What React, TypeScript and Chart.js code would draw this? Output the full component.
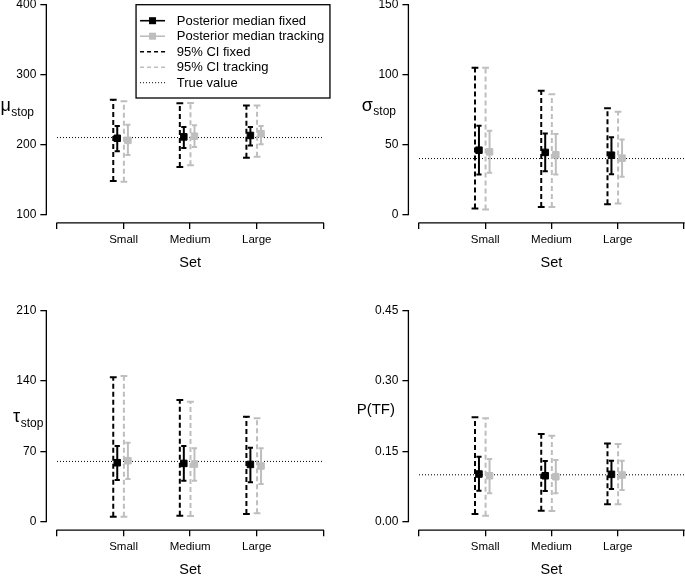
import React, { useEffect, useRef } from 'react';
import { Chart, registerables } from 'chart.js';

Chart.register(...registerables);

// ---------- data ----------
const CATEGORIES = ['Small', 'Medium', 'Large'];
const X_TICKS = [0, 1, 2, 3, 4];

// rows per category: [lower 95% CI, lower inner, median, upper inner, upper 95% CI]
const MU_FIXED = [
  [148, 190.5, 209, 226.5, 264],
  [168, 195, 211, 225, 259],
  [181, 198.5, 213, 225, 256],
];
const MU_TRACK = [
  [147, 185, 206, 228.5, 262],
  [170.5, 196.5, 212, 227.5, 259.5],
  [182.5, 200.5, 215.5, 226.5, 256],
];
const MU_TRUE = 210;
const MU_TICKS = [100, 200, 300, 400];

const SIGMA_FIXED = [
  [4.3, 28.6, 46, 63.4, 105],
  [5.4, 31, 44.4, 58, 88.5],
  [7.4, 28.8, 42.4, 55.3, 75.9],
];
const SIGMA_TRACK = [
  [3.6, 29.8, 44.8, 59.8, 105],
  [5.4, 28.6, 42.7, 57.5, 86],
  [7.9, 27, 40.3, 53.7, 73.5],
];
const SIGMA_TRUE = 40;
const SIGMA_TICKS = [0, 50, 100, 150];

const TAU_FIXED = [
  [5, 41.5, 58.7, 75.3, 143.7],
  [6, 40.8, 58, 75.3, 121],
  [7.7, 39.2, 57, 73.7, 104.5],
];
const TAU_TRACK = [
  [5, 42.5, 60.7, 78.6, 145],
  [5.7, 40.8, 57.4, 73, 119.4],
  [8.3, 37.5, 55.4, 73, 103],
];
const TAU_TRUE = 60;
const TAU_TICKS = [0, 70, 140, 210];

const PTF_FIXED = [
  [0.0164, 0.0662, 0.1017, 0.1387, 0.2226],
  [0.0235, 0.0655, 0.098, 0.1294, 0.187],
  [0.037, 0.0697, 0.101, 0.13, 0.167],
];
const PTF_TRACK = [
  [0.0128, 0.0605, 0.098, 0.1337, 0.2205],
  [0.0228, 0.0605, 0.096, 0.1316, 0.1834],
  [0.037, 0.0676, 0.0996, 0.13, 0.1657],
];
const PTF_TRUE = 0.1;
const PTF_TICKS = [0, 0.15, 0.3, 0.45];

const LEGEND_LABELS = [
  'Posterior median fixed',
  'Posterior median tracking',
  '95% CI fixed',
  '95% CI tracking',
  'True value',
];
const X_TITLE = 'Set';

// ---------- style ----------
const FONT = "'Liberation Sans', Arial, Helvetica, sans-serif";
const BLACK = '#000000';
const GRAY = '#bebebe';
const AXIS_W = 1.3;
const CI_DASH = [5, 3];
const TRUE_DASH = [1, 2];
const OFF_FIXED_CI = -0.155;
const OFF_FIXED_MED = -0.095;
const OFF_TRACK_CI = 0.005;
const OFF_TRACK_MED = 0.065;
const Y_W = 40;
const X_H = 49;

type LabelCfg = { main: string; sub: string; mainSize: number; subSize: number; gap: number; mainBase: number; subBase: number };

type PanelCfg = {
  fixed: number[][];
  track: number[][];
  truth: number;
  ticks: number[];
  fmt: (v: number) => string;
  label: LabelCfg;
  col: number;
  row: number;
  legend: boolean;
};

const PANELS: PanelCfg[] = [
  {
    fixed: MU_FIXED, track: MU_TRACK, truth: MU_TRUE, ticks: MU_TICKS, fmt: (v) => String(v),
    label: { main: 'μ', sub: 'stop', mainSize: 18, subSize: 12, gap: 12.3, mainBase: 1, subBase: 6 },
    col: 0, row: 0, legend: true,
  },
  {
    fixed: SIGMA_FIXED, track: SIGMA_TRACK, truth: SIGMA_TRUE, ticks: SIGMA_TICKS, fmt: (v) => String(v),
    label: { main: 'σ', sub: 'stop', mainSize: 18, subSize: 12, gap: 12.4, mainBase: 1, subBase: 5 },
    col: 1, row: 0, legend: false,
  },
  {
    fixed: TAU_FIXED, track: TAU_TRACK, truth: TAU_TRUE, ticks: TAU_TICKS, fmt: (v) => String(v),
    label: { main: 'τ', sub: 'stop', mainSize: 18, subSize: 12, gap: 3, mainBase: 6, subBase: 11 },
    col: 0, row: 1, legend: false,
  },
  {
    fixed: PTF_FIXED, track: PTF_TRACK, truth: PTF_TRUE, ticks: PTF_TICKS, fmt: (v) => v.toFixed(2),
    label: { main: 'P(TF)', sub: '', mainSize: 15, subSize: 12, gap: 13.4, mainBase: -2, subBase: 0 },
    col: 1, row: 1, legend: false,
  },
];

// page geometry of the axes (x value 0 and 4; first and last y tick)
const COL_X = [
  { p0: 57, p4: 323.3, canvasLeft: 0, canvasW: 342 },
  { p0: 419, p4: 684, canvasLeft: 342, canvasW: 365 },
];
const ROW_Y = [
  { pFirst: 214.5, pLast: 4.7, canvasTop: -20, canvasH: 300 },
  { pFirst: 521.7, pLast: 310.7, canvasTop: 286, canvasH: 300 },
];

// ---------- plugins ----------
const rAxesPlugin = {
  id: 'rAxes',
  afterDraw(chart: any, _args: any, opts: any) {
    const { ctx, chartArea, scales } = chart;
    const yt: number[] = opts.yTicks;
    const x = scales.x;
    const y = scales.y;
    ctx.save();
    ctx.strokeStyle = BLACK;
    ctx.lineWidth = AXIS_W;
    ctx.setLineDash([]);
    ctx.beginPath();
    ctx.moveTo(chartArea.left, y.getPixelForValue(yt[0]) + AXIS_W / 2);
    ctx.lineTo(chartArea.left, y.getPixelForValue(yt[yt.length - 1]) - AXIS_W / 2);
    ctx.moveTo(x.getPixelForValue(X_TICKS[0]) - AXIS_W / 2, chartArea.bottom);
    ctx.lineTo(x.getPixelForValue(X_TICKS[X_TICKS.length - 1]) + AXIS_W / 2, chartArea.bottom);
    ctx.stroke();
    ctx.restore();
  },
};

const yTitlePlugin = {
  id: 'yTitle',
  afterDraw(chart: any, _args: any, o: any) {
    const { ctx, chartArea } = chart;
    const cy = (chartArea.top + chartArea.bottom) / 2;
    const right = chartArea.left - o.gap;
    ctx.save();
    ctx.fillStyle = BLACK;
    ctx.textBaseline = 'alphabetic';
    ctx.textAlign = 'left';
    ctx.font = `${o.subSize}px ${FONT}`;
    const subW = o.sub ? ctx.measureText(o.sub).width : 0;
    ctx.font = `${o.mainSize}px ${FONT}`;
    const mainW = ctx.measureText(o.main).width;
    const x0 = right - subW - mainW - (o.sub ? 0.5 : 0);
    ctx.fillText(o.main, x0, cy + o.mainBase);
    if (o.sub) {
      ctx.font = `${o.subSize}px ${FONT}`;
      ctx.fillText(o.sub, x0 + mainW + 0.5, cy + o.subBase);
    }
    ctx.restore();
  },
};

type LegendStyle = { color: string; dash: number[]; width: number; marker: boolean };
const LEGEND_STYLES: LegendStyle[] = [
  { color: BLACK, dash: [], width: 1.6, marker: true },
  { color: GRAY, dash: [], width: 1.6, marker: true },
  { color: BLACK, dash: [4, 3], width: 1.6, marker: false },
  { color: GRAY, dash: [4, 3], width: 1.6, marker: false },
  { color: BLACK, dash: [1, 2], width: 1, marker: false },
];

const boxLegendPlugin = {
  id: 'boxLegend',
  afterDraw(chart: any, _args: any, o: any) {
    if (!o.show) return;
    const { ctx, chartArea } = chart;
    const left = chartArea.left + 89.7;
    const right = chartArea.right - 4;
    const top = chartArea.top + 8.4;
    const bottom = top + 93.3;
    ctx.save();
    ctx.fillStyle = '#ffffff';
    ctx.fillRect(left, top, right - left, bottom - top);
    ctx.strokeStyle = BLACK;
    ctx.lineWidth = 1.3;
    ctx.setLineDash([]);
    ctx.strokeRect(left, top, right - left, bottom - top);
    ctx.font = `13px ${FONT}`;
    ctx.textBaseline = 'middle';
    ctx.textAlign = 'left';
    LEGEND_LABELS.forEach((label, i) => {
      const st = LEGEND_STYLES[i];
      const yy = top + 16 + i * 15.5;
      ctx.strokeStyle = st.color;
      ctx.lineWidth = st.width;
      ctx.setLineDash(st.dash);
      ctx.beginPath();
      ctx.moveTo(left + 4, yy);
      ctx.lineTo(left + 29, yy);
      ctx.stroke();
      ctx.setLineDash([]);
      if (st.marker) {
        ctx.fillStyle = st.color;
        ctx.fillRect(left + 16.5 - 3.5, yy - 3.5, 7, 7);
      }
      ctx.fillStyle = BLACK;
      ctx.fillText(label, left + 40.7, yy + 0.5);
    });
    ctx.restore();
  },
};

// ---------- dataset builders ----------
function intervalData(rows: number[][], off: number, lo: number, hi: number) {
  const out: { x: number; y: number | null }[] = [];
  rows.forEach((r, i) => {
    const xv = i + 1 + off;
    out.push({ x: xv, y: r[lo] });
    out.push({ x: xv, y: r[hi] });
    out.push({ x: xv, y: null });
  });
  return out;
}

function medianData(rows: number[][], off: number) {
  return rows.map((r, i) => ({ x: i + 1 + off, y: r[2] }));
}

function buildConfig(p: PanelCfg) {
  const cx = COL_X[p.col];
  const ry = ROW_Y[p.row];
  const xMin = -0.16;
  const xMax = 4.16;
  const xSpan = cx.p4 - cx.p0;
  const areaLeft = cx.p0 - 0.04 * xSpan - cx.canvasLeft;
  const areaRight = cx.p4 + 0.04 * xSpan - cx.canvasLeft;
  const ySpan = ry.pFirst - ry.pLast;
  const areaTop = ry.pLast - 0.04 * ySpan - ry.canvasTop;
  const areaBottom = ry.pFirst + 0.04 * ySpan - ry.canvasTop;
  const t0 = p.ticks[0];
  const t1 = p.ticks[p.ticks.length - 1];
  const yMin = t0 - 0.04 * (t1 - t0);
  const yMax = t1 + 0.04 * (t1 - t0);

  const datasets: any[] = [
    {
      label: LEGEND_LABELS[0], data: medianData(p.fixed, OFF_FIXED_MED), showLine: false,
      pointStyle: 'rect', pointRadius: 4.6, pointBackgroundColor: BLACK, pointBorderColor: BLACK, pointBorderWidth: 1,
      borderColor: BLACK, backgroundColor: BLACK,
    },
    {
      label: LEGEND_LABELS[1], data: medianData(p.track, OFF_TRACK_MED), showLine: false,
      pointStyle: 'rect', pointRadius: 4.6, pointBackgroundColor: GRAY, pointBorderColor: GRAY, pointBorderWidth: 1,
      borderColor: GRAY, backgroundColor: GRAY,
    },
    {
      label: 'inner fixed', data: intervalData(p.fixed, OFF_FIXED_MED, 1, 3), borderColor: BLACK, borderWidth: 2,
      pointStyle: 'line', pointRadius: 2.6, pointBorderColor: BLACK, pointBorderWidth: 2, spanGaps: false,
    },
    {
      label: 'inner tracking', data: intervalData(p.track, OFF_TRACK_MED, 1, 3), borderColor: GRAY, borderWidth: 2,
      pointStyle: 'line', pointRadius: 2.6, pointBorderColor: GRAY, pointBorderWidth: 2, spanGaps: false,
    },
    {
      label: LEGEND_LABELS[2], data: intervalData(p.fixed, OFF_FIXED_CI, 0, 4), borderColor: BLACK, borderWidth: 2,
      borderDash: CI_DASH, pointStyle: 'line', pointRadius: 3.4, pointBorderColor: BLACK, pointBorderWidth: 2, spanGaps: false,
    },
    {
      label: LEGEND_LABELS[3], data: intervalData(p.track, OFF_TRACK_CI, 0, 4), borderColor: GRAY, borderWidth: 2,
      borderDash: CI_DASH, pointStyle: 'line', pointRadius: 3.4, pointBorderColor: GRAY, pointBorderWidth: 2, spanGaps: false,
    },
    {
      label: LEGEND_LABELS[4], data: [{ x: X_TICKS[0], y: p.truth }, { x: X_TICKS[X_TICKS.length - 1], y: p.truth }],
      borderColor: BLACK, borderWidth: 1, borderDash: TRUE_DASH, pointRadius: 0,
    },
  ];

  const gridOpts = {
    display: true, drawOnChartArea: false, drawTicks: true, tickLength: 6,
    color: BLACK, tickColor: BLACK, tickWidth: AXIS_W, lineWidth: AXIS_W,
  };

  return {
    type: 'line',
    data: { datasets },
    options: {
      responsive: false,
      maintainAspectRatio: false,
      animation: false,
      events: [],
      layout: {
        padding: {
          left: areaLeft - Y_W,
          right: cx.canvasW - areaRight,
          top: areaTop,
          bottom: ry.canvasH - areaBottom - X_H,
        },
      },
      plugins: {
        legend: { display: false },
        tooltip: { enabled: false },
        rAxes: { yTicks: p.ticks },
        yTitle: p.label,
        boxLegend: { show: p.legend },
      },
      scales: {
        x: {
          type: 'linear', min: xMin, max: xMax,
          afterBuildTicks: (s: any) => { s.ticks = X_TICKS.map((v) => ({ value: v })); },
          afterFit: (s: any) => { s.height = X_H; },
          grid: gridOpts,
          border: { display: false },
          ticks: {
            autoSkip: false, maxRotation: 0, minRotation: 0, padding: 4, color: BLACK,
            font: { family: FONT, size: 11.5 },
            callback: (v: any) => CATEGORIES[Math.round(Number(v)) - 1] ?? '',
          },
          title: { display: true, text: X_TITLE, color: BLACK, font: { family: FONT, size: 14.5 }, padding: 0 },
        },
        y: {
          type: 'linear', min: yMin, max: yMax,
          afterBuildTicks: (s: any) => { s.ticks = p.ticks.map((v) => ({ value: v })); },
          afterFit: (s: any) => { s.width = Y_W; },
          grid: gridOpts,
          border: { display: false },
          ticks: {
            autoSkip: false, padding: 4, color: BLACK,
            font: { family: FONT, size: 12 },
            callback: (v: any) => p.fmt(Number(v)),
          },
        },
      },
    },
    plugins: [rAxesPlugin, yTitlePlugin, boxLegendPlugin],
  };
}

function Panel({ cfg }: { cfg: PanelCfg }) {
  const ref = useRef<HTMLCanvasElement | null>(null);
  const cx = COL_X[cfg.col];
  const ry = ROW_Y[cfg.row];
  useEffect(() => {
    if (!ref.current) return;
    const chart = new Chart(ref.current, buildConfig(cfg) as any);
    return () => chart.destroy();
  }, [cfg]);
  return (
    <canvas
      ref={ref}
      width={cx.canvasW}
      height={ry.canvasH}
      style={{
        position: 'absolute',
        left: cx.canvasLeft,
        top: ry.canvasTop,
        width: cx.canvasW,
        height: ry.canvasH,
      }}
    />
  );
}

export default function App() {
  useEffect(() => {
    document.body.style.margin = '0';
  }, []);
  return (
    <div
      style={{
        position: 'fixed',
        left: 0,
        top: 0,
        width: 685,
        height: 576,
        overflow: 'hidden',
        background: '#ffffff',
      }}
    >
      {PANELS.map((p, i) => (
        <Panel key={i} cfg={p} />
      ))}
    </div>
  );
}
